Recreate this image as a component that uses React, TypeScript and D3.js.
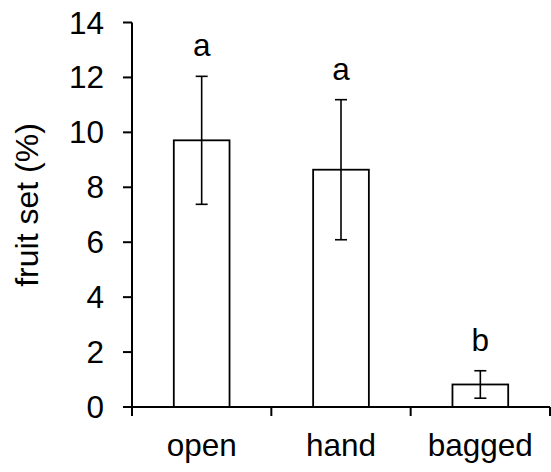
import { useEffect, useRef } from 'react';
import * as d3 from 'd3';

const categories = ['open', 'hand', 'bagged'];
const means = [9.71, 8.64, 0.82];
const errors = [2.33, 2.55, 0.5];
const letters = ['a', 'a', 'b'];
const yTicks = [0, 2, 4, 6, 8, 10, 12, 14];

const App = () => {
  const svgRef = useRef<SVGSVGElement | null>(null);

  useEffect(() => {
    const width = 551;
    const height = 472;
    const left = 132;
    const right = 550;
    const top = 22.5;
    const bottom = 407;
    const font = '"Liberation Sans", Arial, sans-serif';
    const fs = 31.5;

    const svg = d3.select(svgRef.current)
      .attr('width', width)
      .attr('height', height);
    svg.selectAll('*').remove();

    const x = d3.scaleBand<string>()
      .domain(categories)
      .range([left, right])
      .padding(0);

    const y = d3.scaleLinear()
      .domain([0, 14])
      .range([bottom, top]);

    const barW = x.bandwidth() * 0.4;
    const capW = 6;

    const data = categories.map((c, i) => ({
      name: c, mean: means[i], err: errors[i], letter: letters[i],
    }));

    // bars
    svg.selectAll('.bar')
      .data(data)
      .enter().append('rect')
      .attr('class', 'bar')
      .attr('x', d => x(d.name)! + x.bandwidth() / 2 - barW / 2)
      .attr('y', d => y(d.mean))
      .attr('width', barW)
      .attr('height', d => y(0) - y(d.mean))
      .attr('fill', '#fff')
      .attr('stroke', '#000')
      .attr('stroke-width', 1.8);

    // error bars
    const eb = svg.selectAll('.err')
      .data(data)
      .enter().append('g')
      .attr('class', 'err')
      .attr('transform', d => `translate(${x(d.name)! + x.bandwidth() / 2},0)`)
      .attr('stroke', '#000')
      .attr('stroke-width', 1.6);

    eb.append('line')
      .attr('y1', d => y(d.mean - d.err))
      .attr('y2', d => y(d.mean + d.err));
    eb.append('line')
      .attr('x1', -capW).attr('x2', capW)
      .attr('y1', d => y(d.mean + d.err))
      .attr('y2', d => y(d.mean + d.err));
    eb.append('line')
      .attr('x1', -capW).attr('x2', capW)
      .attr('y1', d => y(d.mean - d.err))
      .attr('y2', d => y(d.mean - d.err));

    // significance letters
    svg.selectAll('.letter')
      .data(data)
      .enter().append('text')
      .attr('class', 'letter')
      .attr('x', d => x(d.name)! + x.bandwidth() / 2)
      .attr('y', d => y(d.mean + d.err) - 20)
      .attr('text-anchor', 'middle')
      .attr('font-family', font)
      .attr('font-size', fs)
      .text(d => d.letter);

    // x axis
    const gx = svg.append('g')
      .attr('transform', `translate(0,${bottom})`);
    gx.append('line')
      .attr('x1', left).attr('x2', right)
      .attr('stroke', '#000').attr('stroke-width', 2);
    const xEdges = [...categories.map(c => x(c)!), right];
    gx.selectAll('.xtick')
      .data(xEdges)
      .enter().append('line')
      .attr('x1', d => d).attr('x2', d => d)
      .attr('y1', 0).attr('y2', 9)
      .attr('stroke', '#000').attr('stroke-width', 2);
    gx.selectAll('.xlabel')
      .data(categories)
      .enter().append('text')
      .attr('x', d => x(d)! + x.bandwidth() / 2)
      .attr('y', 49)
      .attr('text-anchor', 'middle')
      .attr('font-family', font)
      .attr('font-size', fs)
      .text(d => d);

    // y axis
    const gy = svg.append('g')
      .attr('transform', `translate(${left},0)`);
    gy.append('line')
      .attr('y1', y(14)).attr('y2', y(0))
      .attr('stroke', '#000').attr('stroke-width', 2);
    gy.selectAll('.ytick')
      .data(yTicks)
      .enter().append('line')
      .attr('x1', -9).attr('x2', 0)
      .attr('y1', d => y(d)).attr('y2', d => y(d))
      .attr('stroke', '#000').attr('stroke-width', 2);
    gy.selectAll('.ylabel')
      .data(yTicks)
      .enter().append('text')
      .attr('x', -28)
      .attr('y', d => y(d))
      .attr('dy', '0.35em')
      .attr('text-anchor', 'end')
      .attr('font-family', font)
      .attr('font-size', fs)
      .text(d => d);

    svg.append('text')
      .attr('transform', `translate(38,205) rotate(-90)`)
      .attr('text-anchor', 'middle')
      .attr('font-family', font)
      .attr('font-size', 32)
      .text('fruit set (%)');
  }, []);

  return (
    <div>
      <svg ref={svgRef} style={{ position: 'absolute', left: 0, top: 0, background: '#fff' }}></svg>
    </div>
  );
};

export default App;
